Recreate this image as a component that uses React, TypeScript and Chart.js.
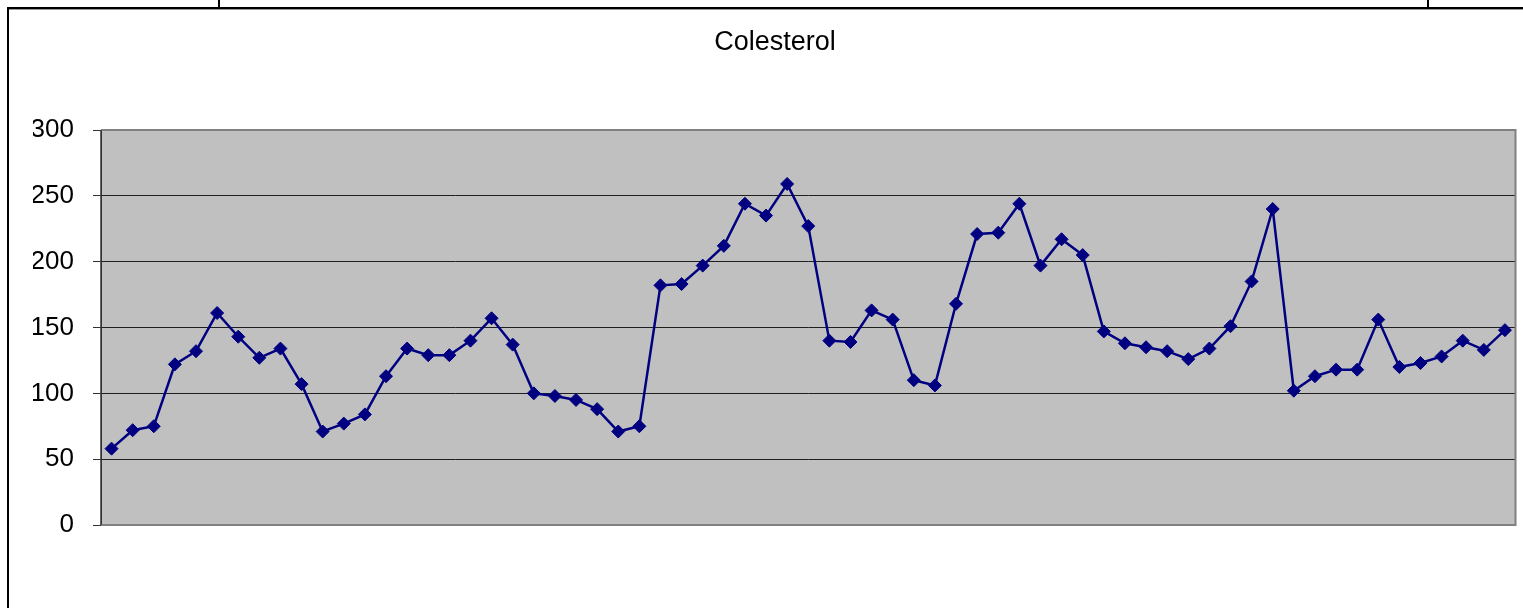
import React, { useEffect, useRef } from "react";
import { Chart, registerables } from "chart.js";

Chart.register(...registerables);

const categories = [
  "1", "2", "3", "4", "5", "6", "7", "8", "9", "10",
  "11", "12", "13", "14", "15", "16", "17", "18", "19", "20",
  "21", "22", "23", "24", "25", "26", "27", "28", "29", "30",
  "31", "32", "33", "34", "35", "36", "37", "38", "39", "40",
  "41", "42", "43", "44", "45", "46", "47", "48", "49", "50",
  "51", "52", "53", "54", "55", "56", "57", "58", "59", "60",
  "61", "62", "63", "64", "65", "66", "67",
];

const colesterol = [
  58, 72, 75, 122, 132, 161, 143, 127, 134, 107,
  71, 77, 84, 113, 134, 129, 129, 140, 157, 137,
  100, 98, 95, 88, 71, 75, 182, 183, 197, 212,
  244, 235, 259, 227, 140, 139, 163, 156, 110, 106,
  168, 221, 222, 244, 197, 217, 205, 147, 138, 135,
  132, 126, 134, 151, 185, 240, 102, 113, 118, 118,
  156, 120, 123, 128, 140, 133, 148,
];

const yMin = 0;
const yMax = 300;
const yStep = 50;

const chartTitle = "Colesterol";

const W = 1523;
const H = 608;

const framePlugin = {
  id: "framePlugin",
  beforeDraw(chart: any) {
    const { ctx, chartArea } = chart;
    ctx.save();
    ctx.fillStyle = "#ffffff";
    ctx.fillRect(0, 0, W, H);
    // spreadsheet / chart frame lines
    ctx.fillStyle = "#000000";
    ctx.fillRect(7, 7, W - 7, 2);
    ctx.fillRect(7, 7, 2, H - 7);
    ctx.fillRect(218, 0, 2, 8);
    ctx.fillRect(1427, 0, 2, 8);
    ctx.fillStyle = "#9a9a9a";
    ctx.fillRect(9, 9, W - 9, 1);
    // plot area
    ctx.fillStyle = "#c0c0c0";
    ctx.fillRect(chartArea.left, chartArea.top, chartArea.right - chartArea.left, chartArea.bottom - chartArea.top);
    ctx.restore();
  },
  beforeDatasetsDraw(chart: any) {
    const { ctx, chartArea } = chart;
    ctx.save();
    ctx.strokeStyle = "#808080";
    ctx.lineWidth = 2;
    ctx.beginPath();
    ctx.moveTo(chartArea.left, chartArea.top);
    ctx.lineTo(chartArea.right, chartArea.top);
    ctx.lineTo(chartArea.right, chartArea.bottom);
    ctx.lineTo(chartArea.left, chartArea.bottom);
    ctx.stroke();
    ctx.strokeStyle = "#333333";
    ctx.lineWidth = 1.5;
    ctx.beginPath();
    ctx.moveTo(chartArea.left, chartArea.top);
    ctx.lineTo(chartArea.left, chartArea.bottom);
    ctx.stroke();
    ctx.restore();
  },
};

export default function App() {
  const ref = useRef<HTMLCanvasElement | null>(null);

  useEffect(() => {
    if (!ref.current) return;
    const chart = new Chart(ref.current, {
      type: "line",
      data: {
        labels: categories,
        datasets: [
          {
            label: chartTitle,
            data: colesterol,
            borderColor: "#000080",
            backgroundColor: "#000080",
            borderWidth: 2.5,
            pointStyle: "rectRot",
            pointRadius: 6.5,
            pointBorderWidth: 1,
            pointBackgroundColor: "#000080",
            pointBorderColor: "#000080",
            tension: 0,
          },
        ],
      },
      options: {
        responsive: false,
        animation: false,
        devicePixelRatio: 1,
        layout: { padding: { top: 0, left: 33, right: 6, bottom: 83 } },
        plugins: {
          legend: { display: false },
          tooltip: { enabled: false },
          title: {
            display: true,
            text: chartTitle,
            color: "#000000",
            font: { family: "'Liberation Sans', Arial, sans-serif", size: 27, weight: "normal", lineHeight: 1.2 },
            padding: { top: 26, bottom: 71.6 },
          },
        },
        scales: {
          x: {
            type: "category",
            offset: true,
            display: false,
          },
          y: {
            min: yMin,
            max: yMax,
            ticks: {
              stepSize: yStep,
              padding: 19,
              color: "#000000",
              font: { family: "'Liberation Sans', Arial, sans-serif", size: 26 },
            },
            grid: {
              color: "#1e1e1e",
              lineWidth: 1,
              drawTicks: true,
              tickLength: 8,
              tickColor: "#333333",
            },
            border: { display: true, color: "#333333", width: 1 },
            afterFit: (scale: any) => {
              scale.width = 68;
            },
          },
        },
      },
      plugins: [framePlugin],
    });
    return () => chart.destroy();
  }, []);

  return (
    <canvas
      ref={ref}
      width={W}
      height={H}
      style={{ position: "absolute", left: 0, top: 0, width: W, height: H, display: "block" }}
    />
  );
}
